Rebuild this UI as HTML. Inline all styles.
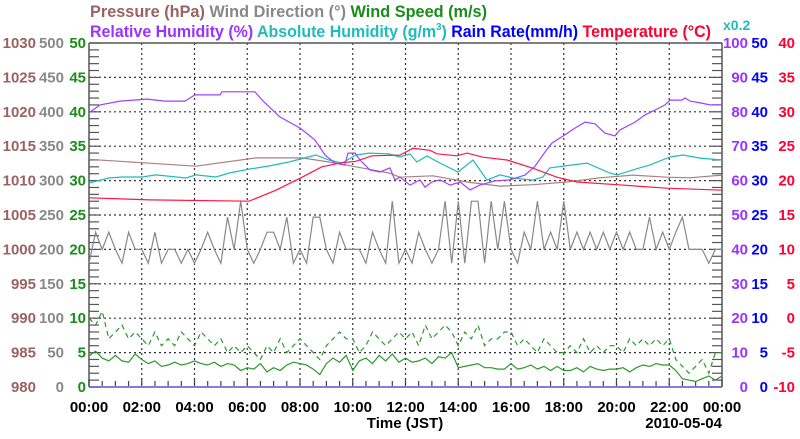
<!DOCTYPE html>
<html><head><meta charset="utf-8"><style>
body{margin:0;background:#fff;width:800px;height:434px;overflow:hidden}
svg{font-family:"Liberation Sans",sans-serif;font-weight:bold}
</style></head><body>
<svg id="c" width="800" height="434" xmlns="http://www.w3.org/2000/svg">
<g id="hdr">
<text x="90" y="17" font-size="17" textLength="397" lengthAdjust="spacingAndGlyphs"><tspan fill="#9a6262">Pressure (hPa)</tspan><tspan fill="#888"> Wind Direction (°)</tspan><tspan fill="#1a8c1a"> Wind Speed (m/s)</tspan></text>
<text x="90" y="37" font-size="16.5" textLength="621" lengthAdjust="spacingAndGlyphs"><tspan fill="#9933ff">Relative Humidity (%)</tspan><tspan fill="#22bbbb"> Absolute Humidity (g/m</tspan><tspan fill="#22bbbb" font-size="10" dy="-7">3</tspan><tspan fill="#22bbbb" dy="7">)</tspan><tspan fill="#0000ff"> Rain Rate(mm/h)</tspan><tspan fill="#ff0033"> Temperature (°C)</tspan></text>
<text x="723" y="30" fill="#22bbbb" font-size="14">x0.2</text>
</g>
<g id="grid"></g><g id="axes"></g><g id="series"></g>
<text x="405" y="428" text-anchor="middle" font-size="15">Time (JST)</text>
<text x="722" y="428" text-anchor="end" font-size="15">2010-05-04</text>
</svg>
<script>
const xTicks=["00:00","02:00","04:00","06:00","08:00","10:00","12:00","14:00","16:00","18:00","20:00","22:00","00:00"];
const pressTicks=[980,985,990,995,1000,1005,1010,1015,1020,1025,1030];
const dirTicks=[0,50,100,150,200,250,300,350,400,450,500];
const spdTicks=[0,5,10,15,20,25,30,35,40,45,50];
const rhTicks=[0,10,20,30,40,50,60,70,80,90,100];
const rainTicks=[0,5,10,15,20,25,30,35,40,45,50];
const tempTicks=[-10,-5,0,5,10,15,20,25,30,35,40];
const rhH=[0,0.42,1.18,2.2,2.88,3.64,4.02,4.97,5.04,6.29,6.6,7.24,8.0,8.57,8.95,9.33,9.7,9.82,10.09,10.27,10.65,11.03,11.41,11.6,11.79,12.17,12.55,12.74,13.0,13.31,13.69,14.07,14.45,14.82,15.39,15.96,16.53,16.91,17.29,17.55,18.05,18.43,18.81,19.18,19.56,19.94,20.13,20.7,21.08,21.46,21.84,22.03,22.48,22.6,22.79,23.17,23.55,24];
const rhV=[79.7,82.0,83.1,83.7,83.1,83.1,84.9,84.9,85.8,85.8,83.1,78.5,75.3,71.8,67.4,65.1,64.5,68.0,68.0,66.0,63.1,62.5,63.7,60.2,61.0,58.7,60.2,58.1,59.6,60.2,58.7,59.6,57.3,58.7,59.9,60.2,61.6,64.2,68.3,70.9,73.3,75.3,77.0,76.5,73.8,73.0,74.7,77.0,79.1,80.5,82.0,83.4,83.4,84.0,83.1,82.6,82.0,82.0];
const tempH=[0,2.31,6.07,7.09,8.08,8.83,9.59,10.12,10.73,11.79,12.28,12.93,13.19,13.95,14.33,14.94,15.85,16.83,17.74,18.5,20.02,21.91,24];
const tempV=[17.5,17.2,17.0,18.6,20.5,22.0,22.6,22.8,23.6,23.7,24.7,24.4,23.9,23.6,24.0,23.4,23.0,21.8,20.5,19.8,19.4,18.9,18.6];
const presH=[0,2.0,4.05,6.33,8.08,9.1,10.12,11.37,11.79,13.04,14.33,15.58,16.83,18.12,19.37,20.62,21.91,22.78,24];
const presV=[1013.1,1012.6,1012.1,1013.3,1013.3,1012.7,1012.0,1011.1,1010.5,1010.7,1009.8,1009.2,1009.4,1009.8,1010.4,1010.8,1010.5,1010.4,1010.8];
const ahH=[0,0.76,1.25,2.0,2.54,3.68,4.05,4.82,5.31,6.07,6.82,7.58,8.6,9.1,9.59,10.12,10.62,11.37,11.79,12.17,12.43,12.81,13.31,13.99,14.56,15.09,15.58,16.08,16.83,17.21,17.47,18.35,18.88,19.75,20.02,20.62,21.27,22.03,22.52,23.17,24];
const ahV=[11.86,12.15,12.21,12.21,12.33,12.15,12.33,12.21,12.44,12.67,12.85,13.08,13.49,13.2,13.02,13.49,13.6,13.55,13.37,13.55,13.08,13.43,13.02,12.5,13.2,12.03,12.33,12.15,12.03,12.21,12.74,12.91,13.02,12.44,12.33,12.62,12.91,13.37,13.49,13.31,13.2];
const spdAvg=[4.5,5.2,4.2,3.8,4.6,3.8,3.6,4.8,4.0,3.4,3.8,3.0,3.2,3.6,3.2,3.4,3.8,3.4,3.2,3.6,3.0,3.4,3.2,2.4,2.8,2.6,3.4,2.2,2.8,2.4,3.2,3.6,3.4,3.2,2.6,1.8,3.4,4.2,3.6,4.6,2.4,3.8,4.2,3.4,4.6,3.8,4.8,3.6,4.2,3.6,3.8,4.2,3.4,4.4,4.2,5.0,2.8,3.0,3.2,3.4,2.8,2.8,2.6,2.6,3.4,2.6,2.8,3.2,2.6,3.0,2.4,3.0,2.4,2.4,2.8,2.2,3.0,2.6,2.4,2.6,2.6,2.8,2.2,2.8,3.2,3.0,3.4,3.2,3.2,2.4,1.2,1.0,0.8,1.2,1.6,1.0,1.6];
const spdGust=[10,9,11,7,8,9,7,8,7,6,8,6,7,6,8,7,6,8,7,6,7,5,6,5,6,5,4,6,5,7,5,6,7,6,5,4,6,7,8,7,7,5,6,8,7,6,7,8,7,8,6,9,7,8,9,8,6,8,7,9,6,7,7,8,8,6,7,6,5,7,6,5,5,6,5,7,5,6,5,6,6,5,7,6,7,6,7,6,7,4,3,2,3,4,2,5,5];
const windDir=[180,225,200,225,200,180,225,200,200,180,225,180,200,200,180,200,180,200,225,200,180,247,200,270,200,180,200,225,225,200,247,180,200,180,247,247,200,180,225,200,200,200,180,225,200,180,270,180,200,180,225,200,180,200,270,180,270,180,270,270,180,270,200,270,200,180,225,200,270,200,225,200,270,200,225,200,225,200,225,200,225,200,225,200,200,247,200,225,200,225,247,200,200,200,180,200,200];

const L=89,R=722,T=43,B=387,NS="http://www.w3.org/2000/svg";
const xs=h=>L+h/24*(R-L);
const yLin=(min,max)=>v=>B-(v-min)/(max-min)*(B-T);
const yP=yLin(980,1030),yD=yLin(0,500),yS=yLin(0,50),yRH=yLin(0,100),yAH=yLin(0,20),yT=yLin(-10,40);
function mk(tag,attrs,parent){const e=document.createElementNS(NS,tag);for(const k in attrs)e.setAttribute(k,attrs[k]);parent.appendChild(e);return e;}
const grid=document.getElementById('grid'),axes=document.getElementById('axes'),ser=document.getElementById('series');
for(let i=1;i<spdTicks.length-1;i++){const y=yS(spdTicks[i]);const g=mk('line',{x1:L,x2:R,y1:y,y2:y,stroke:'#333','stroke-width':1.2,'stroke-dasharray':'2,3'},grid);

}
for(let i=1;i<xTicks.length-1;i++){const x=xs(i*2);const g=mk('line',{x1:x,x2:x,y1:T,y2:B,stroke:'#333','stroke-width':1.2,'stroke-dasharray':'2,3'},grid);

}
mk('line',{x1:L,x2:R,y1:T,y2:T,stroke:'#555','stroke-width':1.5},axes);
mk('line',{x1:L,x2:L,y1:T,y2:B,stroke:'#555','stroke-width':1.5},axes);
mk('line',{x1:R,x2:R,y1:T,y2:B,stroke:'#555','stroke-width':1.5},axes);
for(let v=0;v<=50;v++){const y=yS(v),len=v%5==0?12:10;
mk('line',{x1:L,x2:L+len,y1:y,y2:y,stroke:'#555','stroke-width':1.2},axes);
mk('line',{x1:R,x2:R-len,y1:y,y2:y,stroke:'#555','stroke-width':1.2},axes);}
for(let i=0;i<=48;i++){const x=xs(i/2);mk('line',{x1:x,x2:x,y1:B-1,y2:B-(i%4==0?8:6),stroke:'#444','stroke-width':1.2},axes);}
mk('line',{x1:L,x2:R,y1:B,y2:B,stroke:'#5555cc','stroke-width':1.5},axes);
function lab(x,y,t,fill,anchor,name){const e=mk('text',{x:x,y:y,fill:fill,'text-anchor':anchor,'font-size':15},axes);e.textContent=t;

}
for(let i=0;i<pressTicks.length;i++){const y=yS(spdTicks[i])+5;
lab(36,y,pressTicks[i],'#9a6262','end','pressure-tick');
lab(64,y,dirTicks[i],'#888','end','wind-direction-tick');
lab(86,y,spdTicks[i],'#1a8c1a','end','wind-speed-tick');
lab(748,y,rhTicks[i],'#9933ff','end','humidity-tick');
lab(768,y,rainTicks[i],'#0000ff','end','rain-tick');
lab(795,y,tempTicks[i],'#ff0033','end','temperature-tick');}
xTicks.forEach((t,i)=>lab(xs(i*2),412,t,'#000','middle','x-tick-label'));
function line(hs,vs,yf,color,name,dash){const d=vs.map((v,i)=>(i?'L':'M')+xs(hs[i]).toFixed(1)+','+yf(v).toFixed(1)).join('');
const p=mk('path',{d:d,fill:'none',stroke:color,'stroke-width':1.2},ser);if(dash)p.setAttribute('stroke-dasharray',dash);

}
const q=a=>a.map((_,i)=>i*24/(a.length-1));
line(q(windDir),windDir,yD,'#888','wind-direction-line');
line(q(spdGust),spdGust,yS,'#2a9a2a','wind-gust-line','5,4');
line(q(spdAvg),spdAvg,yS,'#2a9a2a','wind-speed-line');
line(presH,presV,yP,'#aa8080','pressure-line');
line(ahH,ahV,yAH,'#22bbbb','abs-humidity-line');
line(tempH,tempV,yT,'#ff1744','temperature-line');
line(rhH,rhV,yRH,'#a040ff','humidity-line');
</script>
</body></html>
